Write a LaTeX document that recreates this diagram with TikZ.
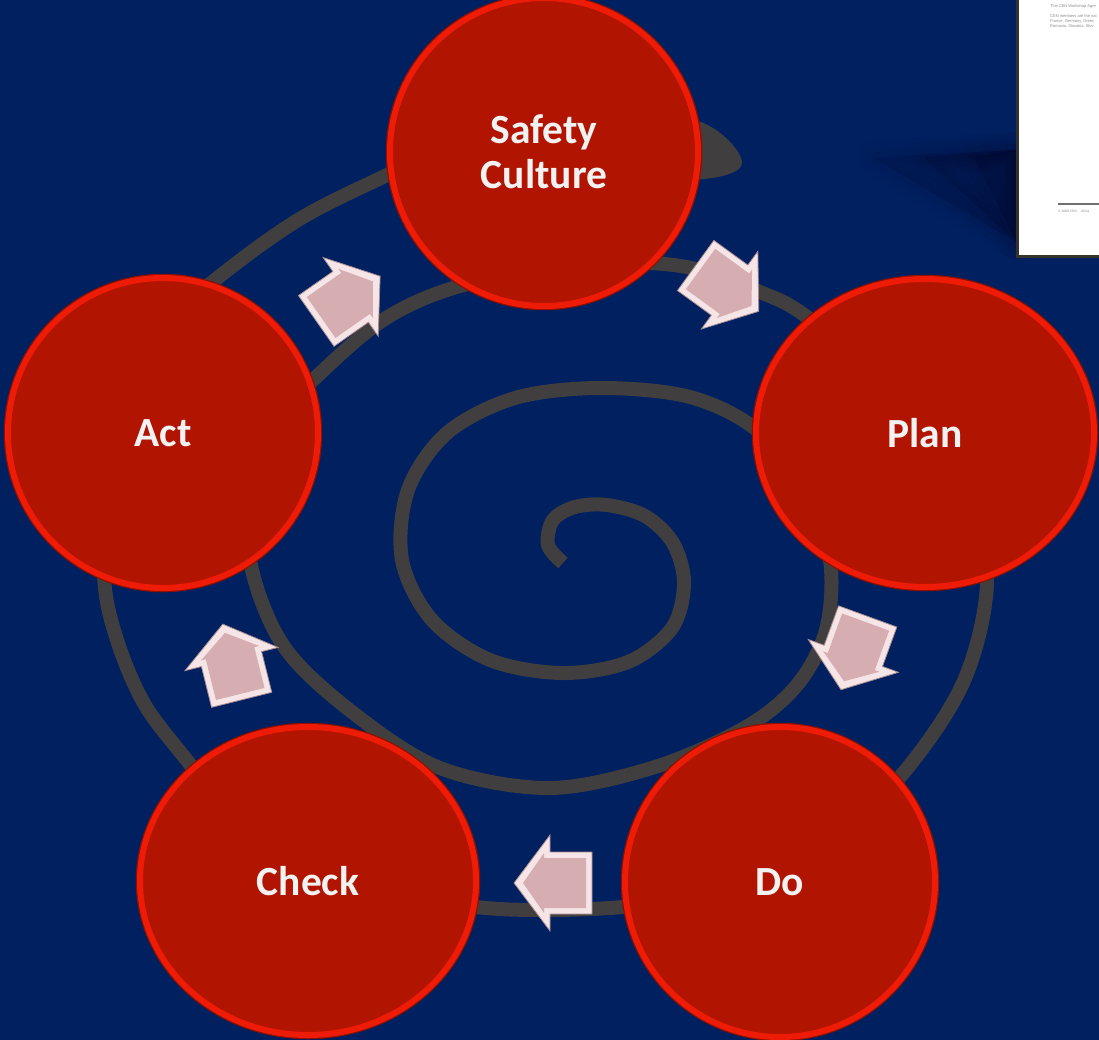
\documentclass[tikz,border=0pt]{standalone}
\usepackage{fontspec}
\usetikzlibrary{shapes.geometric}
\newfontfamily\labelfont{Carlito}
\newfontfamily\docfont{Liberation Sans}

\definecolor{bgnavy}{HTML}{002060}
\definecolor{spiralgray}{HTML}{403E3E}
\definecolor{stagefill}{HTML}{B11400}
\definecolor{stagering}{HTML}{EE1B06}
\definecolor{stageedge}{HTML}{8E1000}
\definecolor{labelwhite}{HTML}{F2F2F2}
\definecolor{arrowface}{HTML}{D6ADB1}
\definecolor{arrowedge}{HTML}{F6E5E7}
\definecolor{arrowline}{HTML}{A88A8E}
\definecolor{pageframe}{HTML}{36322D}
\definecolor{doctext}{HTML}{8C8C8C}

\tikzset{
  stage/.style={ellipse, inner sep=0pt, fill=stagefill,
    preaction={draw=stageedge, line width=8.5},
    draw=stagering, line width=6,
    text=labelwhite, align=center,
    font=\labelfont\bfseries\fontsize{41.5}{45}\selectfont},
  spiral/.style={draw=spiralgray, line width=14, line cap=butt, line join=round},
  pagetext/.style={anchor=base west, inner sep=0pt, text=doctext,
    font=\docfont\fontsize{4}{5}\selectfont},
  bevelarrow/.pic={
    % light bevel rim
    \filldraw[fill=arrowedge, draw=arrowline, line width=0.8, line join=miter]
      (-40,-31) -- (2,-31) -- (2,-48) -- (38,0) -- (2,48) -- (2,31) -- (-40,31) -- cycle;
    % inner face
    \fill[arrowface]
      (-34,-25) -- (8,-25) -- (8,-30) -- (29,0) -- (8,30) -- (8,25) -- (-34,25) -- cycle;
  }
}

\begin{document}
\begin{tikzpicture}[x=1pt, y=-1pt]
\useasboundingbox (0,0) rectangle (1099,1040);
\clip (0,0) rectangle (1099,1040);
\fill[bgnavy] (0,0) rectangle (1099,1040);

% soft shadow cast by the document page, darkest next to the page
\foreach \t in {875,925,975}
  \foreach \w in {36,24,12,2}
    \filldraw[black, opacity=0.02, line width=\w, line join=round]
      (\t,158) -- (1017,150) -- (1017,242) -- cycle;

% document page
\fill[white] (1017,-10) rectangle (1110,256);
\draw[pageframe, line width=3] (1017.5,-10) -- (1017.5,256.5) -- (1110,256.5);
\begin{scope}
  \clip (1019,0) rectangle (1099,255);
  \node[pagetext] (d1) at (1050,7.5) {This CEN Workshop Agre};
  \node[pagetext] (d2) at (1050,17.5) {CEN members are the nat};
  \node[pagetext] (d3) at (1050,22.5) {France, Germany, Greec};
  \node[pagetext] (d4) at (1050,27.5) {Romania, Slovakia, Slov};
  \draw[doctext!80!black, line width=1.2] (1058,204) -- (1099,204);
  \node[pagetext, font=\docfont\fontsize{3.3}{4}\selectfont] (d5) at (1058,212.5) {\textcopyright\ 2008 CEN \quad All rig};
\end{scope}

% background spiral
\draw[spiral] plot[smooth, tension=0.55] coordinates {
  (563,563) (548,545) (553,520) (575,507) (607,505) (645,516) (673,543)
  (684,583) (672,628) (628,662) (562,673) (490,660) (432,620) (402,560)
  (408,490) (447,433) (515,398) (600,388) (690,397) (757,430) (805,490)
  (830,560) (826,630) (797,685) (746,727) (655,767) (549,788) (440,768)
  (352,712) (285,648) (252,570) (248,490) (275,420) (313,380) (380,322)
  (450,289) (550,268) (643,263) (700,270) (760,292) (807,317) (905,400)
  (970,490) (987,583) (963,683) (900,777) (820,850) (700,897) (623,907)
  (549,910) (476,907) (370,890) (250,840) (189,763) (145,705) (117,640)
  (104,575) (110,470) (150,340) (215,280) (298,220) (383,177) (470,138)
  (560,124) (650,134) (700,150)};
% tapered outer end of the spiral
\fill[spiralgray] (690,119) .. controls (716,123) and (742,150) .. (742,163)
  .. controls (742,173) and (718,179) .. (690,180) -- cycle;

% stages
\node[stage, minimum width=308, minimum height=308] (sc) at (544,152) {Safety\\Culture};
\node[stage, minimum width=338, minimum height=308] (plan) at (925,433) {Plan};
\node[stage, minimum width=310, minimum height=310] (do) at (780,882) {Do};
\node[stage, minimum width=336, minimum height=308] (check) at (308,881) {Check};
\node[stage, minimum width=310, minimum height=310] (act) at (163,433) {Act};

% cycle arrows between the stages
\pic[rotate=-36] (a1) at (728,289) {bevelarrow};
\pic[rotate=-110] (a2) at (854,654) {bevelarrow};
\pic[rotate=180] (a3) at (552,883) {bevelarrow};
\pic[rotate=104] (a4) at (232,661) {bevelarrow};
\pic[rotate=35] (a5) at (349,298) {bevelarrow};
\end{tikzpicture}
\end{document}
